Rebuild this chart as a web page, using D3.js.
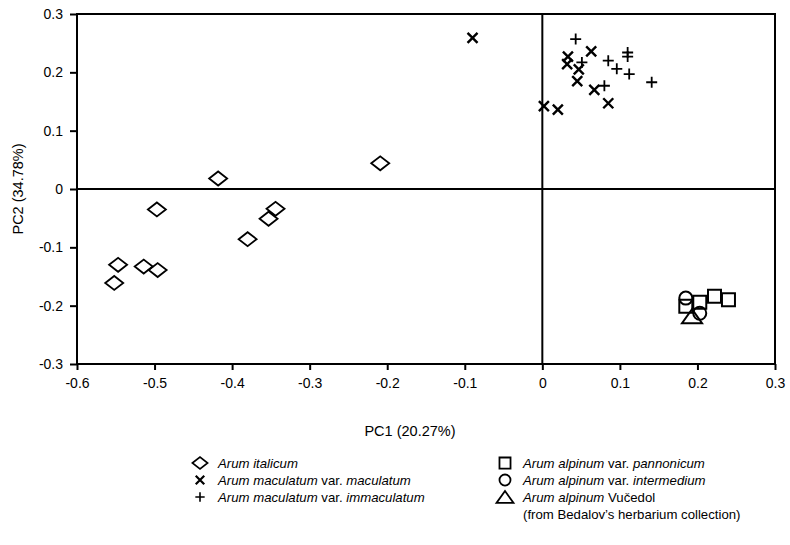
<!DOCTYPE html>
<html>
<head>
<meta charset="utf-8">
<script src="https://cdn.jsdelivr.net/npm/d3@7"></script>
<style>
  body { margin: 0; background: #fff; }
  svg text { font-family: "Liberation Sans", Arial, sans-serif; fill: #000; }
</style>
</head>
<body>
<svg id="chart" width="790" height="545"></svg>
<script>
// PCA scores, [PC1, PC2]
var italicum = [[-0.209, 0.044], [-0.418, 0.018], [-0.497, -0.035], [-0.344, -0.034], [-0.353, -0.051],
    [-0.380, -0.086], [-0.547, -0.130], [-0.514, -0.133], [-0.496, -0.139], [-0.552, -0.161]];
var maculatum = [[-0.090, 0.259], [0.033, 0.227], [0.063, 0.236], [0.032, 0.214], [0.047, 0.205],
    [0.045, 0.185], [0.067, 0.170], [0.085, 0.147], [0.002, 0.142], [0.020, 0.136]];
var immaculatum = [[0.043, 0.257], [0.051, 0.217], [0.085, 0.220], [0.096, 0.206], [0.110, 0.234],
    [0.110, 0.227], [0.112, 0.197], [0.141, 0.183], [0.080, 0.177]];
var pannonicum = [[0.185, -0.201], [0.203, -0.194], [0.222, -0.184], [0.240, -0.190]];
var intermedium = [[0.185, -0.187], [0.203, -0.213]];
var vucedol = [[0.193, -0.218]];

var xTicks = [-0.6, -0.5, -0.4, -0.3, -0.2, -0.1, 0, 0.1, 0.2, 0.3];
var yTicks = [-0.3, -0.2, -0.1, 0, 0.1, 0.2, 0.3];

var svg = d3.select('#chart');
var plotL = 77, plotR = 775, plotT = 14, plotB = 364;

var x = d3.scaleLinear().domain([-0.6, 0.3]).range([plotL, plotR]);
var y = d3.scaleLinear().domain([-0.3, 0.3]).range([plotB, plotT]);

var fmt = function (d) { return String(+d.toFixed(1)); };

// marker shapes drawn as paths centred on 0,0
var shapes = {
    diamond: 'M-9,0L0,-7L9,0L0,7Z',
    cross: 'M-5,-5L5,5M-5,5L5,-5',
    plus: 'M-5.5,0L5.5,0M0,-5.5L0,5.5',
    square: 'M-6.5,-6.5H6.5V6.5H-6.5Z',
    circle: 'M6.5,0A6.5,6.5 0 1 1 -6.5,0A6.5,6.5 0 1 1 6.5,0Z',
    triangle: 'M0,-7L10,7L-10,7Z'
};

var series = [
    {data: italicum, shape: 'diamond', sw: 1.8},
    {data: maculatum, shape: 'cross', sw: 2.4},
    {data: immaculatum, shape: 'plus', sw: 1.8},
    {data: pannonicum, shape: 'square', sw: 2},
    {data: intermedium, shape: 'circle', sw: 2},
    {data: vucedol, shape: 'triangle', sw: 2}
];

// frame
svg.append('rect')
    .attr('x', plotL).attr('y', plotT)
    .attr('width', plotR - plotL).attr('height', plotB - plotT)
    .attr('fill', 'none').attr('stroke', '#000').attr('stroke-width', 2);

// zero lines
svg.append('line')
    .attr('x1', x(0)).attr('x2', x(0)).attr('y1', plotT).attr('y2', plotB)
    .attr('stroke', '#000').attr('stroke-width', 2);
svg.append('line')
    .attr('x1', plotL).attr('x2', plotR).attr('y1', y(0)).attr('y2', y(0))
    .attr('stroke', '#000').attr('stroke-width', 2);

// axes
var xAxis = svg.append('g')
    .attr('transform', 'translate(0,' + plotB + ')')
    .call(d3.axisBottom(x).tickValues(xTicks).tickSize(6).tickPadding(8).tickFormat(fmt));
var yAxis = svg.append('g')
    .attr('transform', 'translate(' + plotL + ',0)')
    .call(d3.axisLeft(y).tickValues(yTicks).tickSize(7).tickPadding(7).tickFormat(fmt));

[xAxis, yAxis].forEach(function (g) {
    g.select('.domain').remove();
    g.selectAll('line').attr('stroke', '#000').attr('stroke-width', 2);
    g.selectAll('text').style('font-size', '14px').attr('fill', '#000');
});

// axis titles
svg.append('text')
    .attr('x', 410).attr('y', 436)
    .attr('text-anchor', 'middle')
    .style('font-size', '14.5px')
    .text('PC1 (20.27%)');
svg.append('text')
    .attr('transform', 'translate(23,' + y(0) + ') rotate(-90)')
    .attr('text-anchor', 'middle')
    .style('font-size', '14.5px')
    .text('PC2 (34.78%)');

// points
series.forEach(function (s) {
    svg.append('g').selectAll('path')
        .data(s.data)
        .enter()
        .append('path')
        .attr('transform', function (d) { return 'translate(' + x(d[0]) + ',' + y(d[1]) + ')'; })
        .attr('d', shapes[s.shape])
        .attr('fill', 'none')
        .attr('stroke', '#000')
        .attr('stroke-width', s.sw);
});

// legend
var legendItems = [
    {shape: 'diamond', sw: 1.6, lx: 200, ly: 463, parts: [['Arum italicum', true]]},
    {shape: 'cross', sw: 2.2, lx: 200, ly: 480, parts: [['Arum maculatum', true], [' var. ', false], ['maculatum', true]]},
    {shape: 'plus', sw: 1.6, lx: 200, ly: 497, parts: [['Arum maculatum', true], [' var. ', false], ['immaculatum', true]]},
    {shape: 'square', sw: 1.8, lx: 505, ly: 463, parts: [['Arum alpinum', true], [' var. ', false], ['pannonicum', true]]},
    {shape: 'circle', sw: 1.8, lx: 505, ly: 480, parts: [['Arum alpinum', true], [' var. ', false], ['intermedium', true]]},
    {shape: 'triangle', sw: 1.8, lx: 505, ly: 497, parts: [['Arum alpinum', true], [' Vu\u010Dedol', false]]}
];

var legend = svg.append('g');
legendItems.forEach(function (it) {
    legend.append('path')
        .attr('transform', 'translate(' + it.lx + ',' + it.ly + ') scale(0.85)')
        .attr('d', shapes[it.shape])
        .attr('fill', 'none')
        .attr('stroke', '#000')
        .attr('stroke-width', it.sw / 0.85);
    var t = legend.append('text')
        .attr('x', it.lx + 18).attr('y', it.ly + 5)
        .style('font-size', '13.2px')
        .style('white-space', 'pre');
    it.parts.forEach(function (p) {
        t.append('tspan')
            .style('font-style', p[1] ? 'italic' : 'normal')
            .text(p[0]);
    });
});
legend.append('text')
    .attr('x', 523).attr('y', 519)
    .style('font-size', '13.2px')
    .text('(from Bedalov\u2019s herbarium collection)');
</script>
</body>
</html>
